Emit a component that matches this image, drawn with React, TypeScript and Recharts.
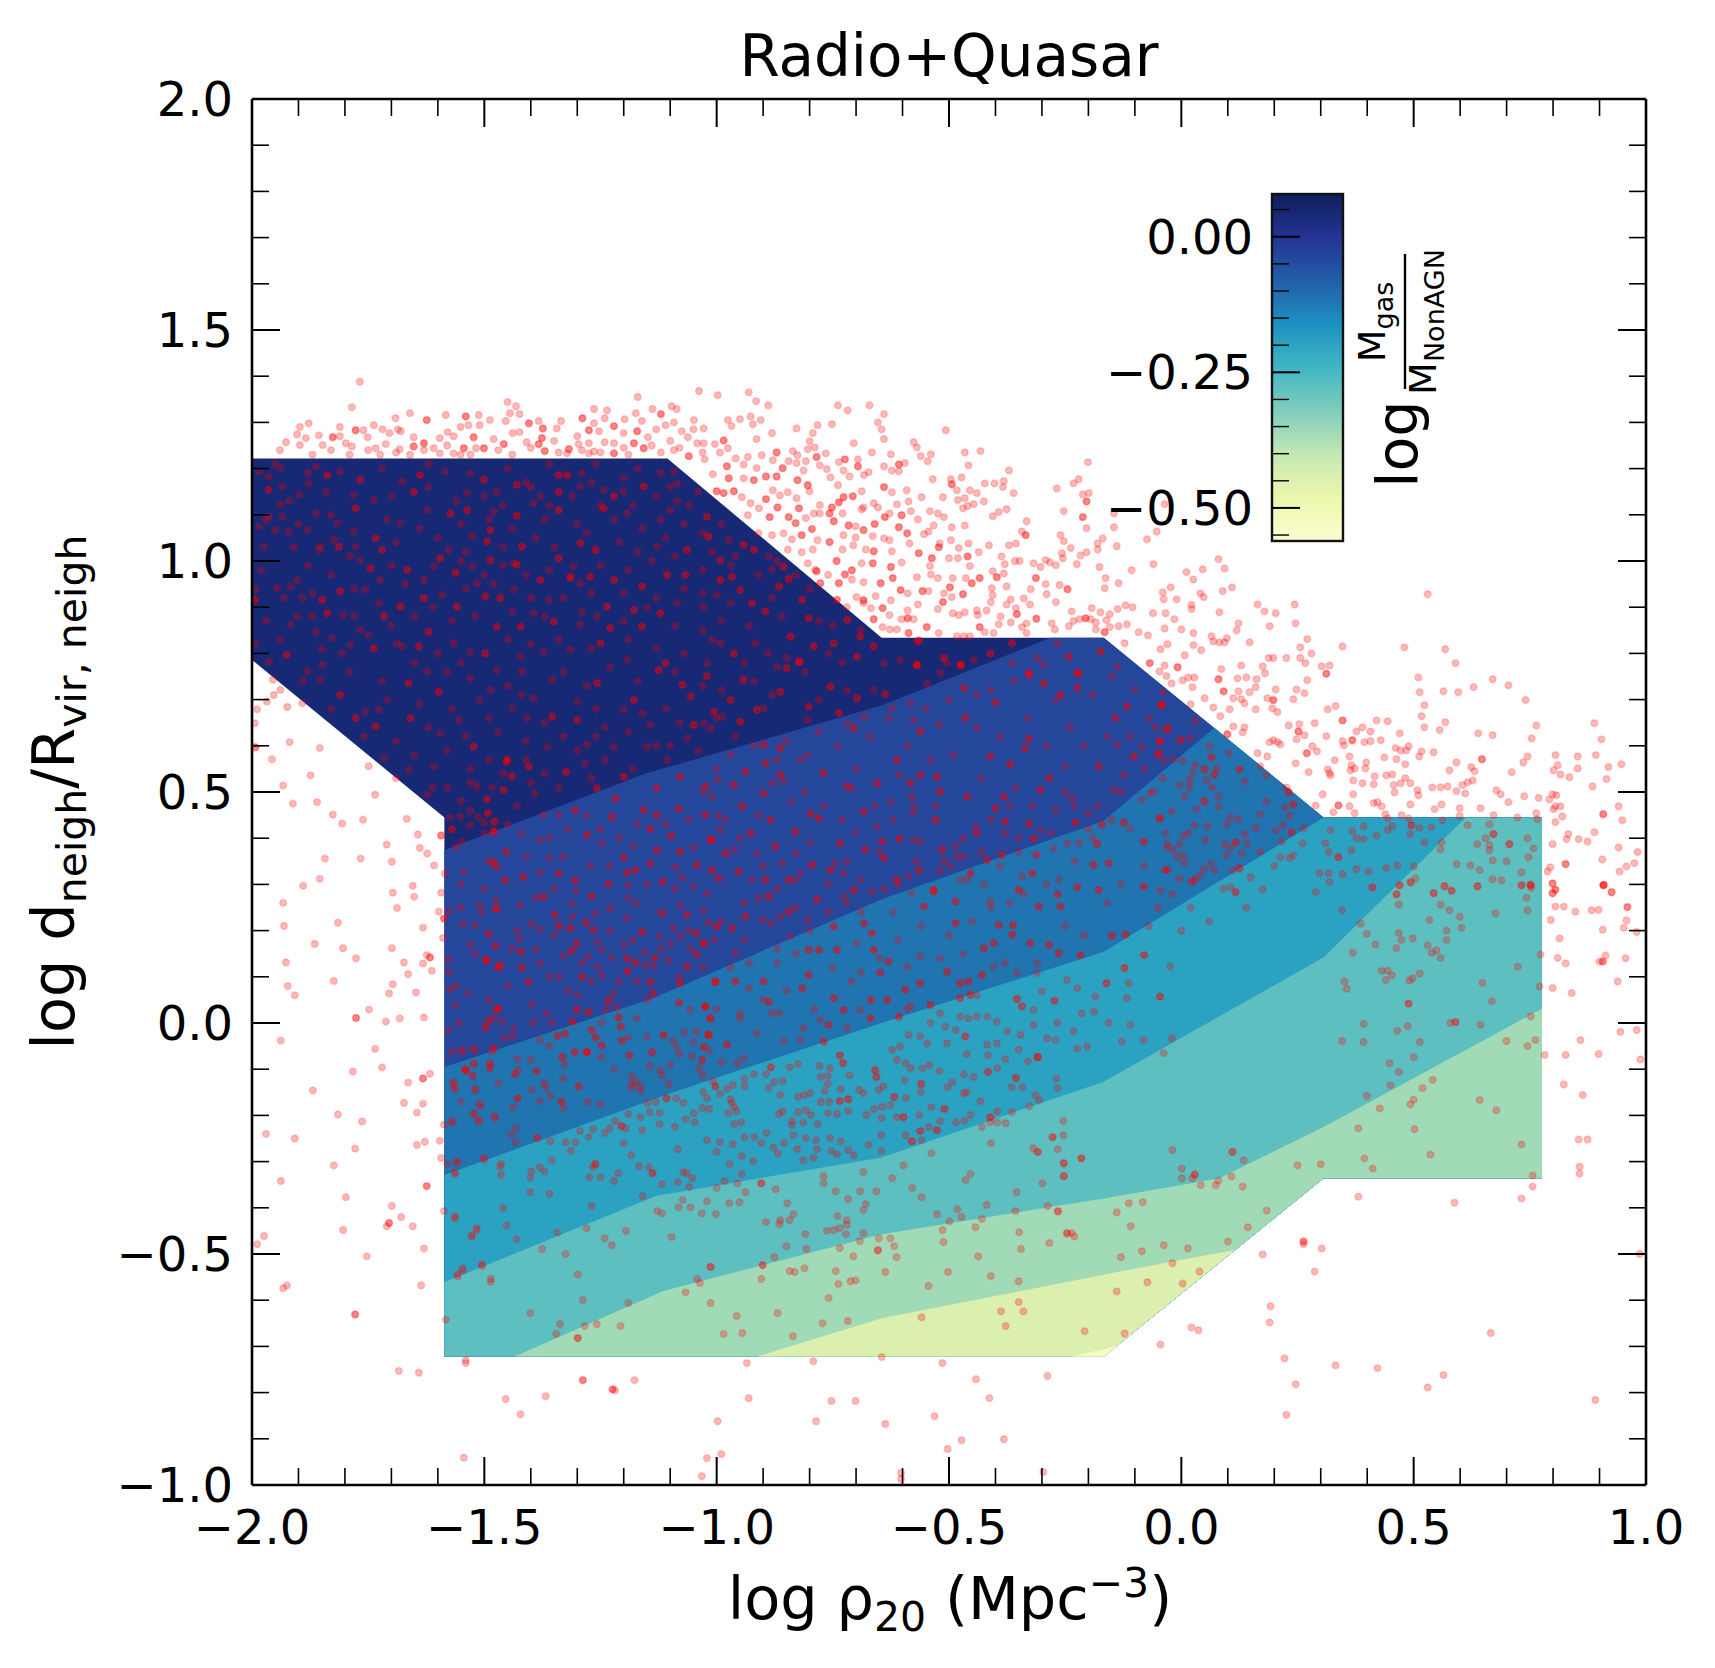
import { Area, ComposedChart, Scatter, XAxis, YAxis } from "recharts";

const W = 1715;
const H = 1668;
const PLOT_L = 252;
const PLOT_R = 1646;
const PLOT_T = 99;
const PLOT_B = 1485;
const MAJOR = 28;
const MINOR = 17;
const FONT = "'DejaVu Sans', sans-serif";
const TICK_SIZE = 48;
const LABEL_SIZE = 59;

const xTicks = [-2, -1.9, -1.8, -1.7, -1.6, -1.5, -1.4, -1.3, -1.2, -1.1, -1, -0.9, -0.8, -0.7, -0.6, -0.5, -0.4, -0.3, -0.2, -0.1, 0, 0.1, 0.2, 0.3, 0.4, 0.5, 0.6, 0.7, 0.8, 0.9, 1];
const yTicks = [-1, -0.9, -0.8, -0.7, -0.6, -0.5, -0.4, -0.3, -0.2, -0.1, 0, 0.1, 0.2, 0.3, 0.4, 0.5, 0.6, 0.7, 0.8, 0.9, 1, 1.1, 1.2, 1.3, 1.4, 1.5, 1.6, 1.7, 1.8, 1.9, 2];
const barTicks = [0.05, 0, -0.05, -0.1, -0.15, -0.2, -0.25, -0.3, -0.35, -0.4, -0.45, -0.5, -0.55];

// x, low, high of each contour level, painted back to front
const level0 = [[-2, 0.786, 1.222], [-1.586, 0.445, 1.222], [-1.586, -0.722, 1.222], [-1.106, -0.722, 1.222], [-0.645, -0.722, 0.834], [-0.167, -0.722, 0.834], [0.306, -0.336, 0.445], [0.776, -0.336, 0.445]];
const level1 = [[-1.586, -0.722, 0.374], [-1.153, -0.722, 0.54], [-0.645, -0.722, 0.687], [-0.282, -0.722, 0.834], [-0.167, -0.722, 0.834], [0.306, -0.336, 0.445], [0.776, -0.336, 0.445]];
const level2 = [[-1.586, -0.722, -0.095], [-1.136, -0.722, 0.054], [-0.645, -0.722, 0.268], [-0.167, -0.722, 0.438], [0.071, -0.528, 0.639], [0.306, -0.336, 0.445], [0.776, -0.336, 0.445]];
const level3 = [[-1.586, -0.722, -0.329], [-1.106, -0.722, -0.154], [-0.645, -0.722, 0], [-0.167, -0.722, 0.154], [0.306, -0.336, 0.445], [0.776, -0.336, 0.445]];
const level4 = [[-1.586, -0.722, -0.561], [-1.129, -0.722, -0.374], [-0.645, -0.722, -0.291], [-0.167, -0.722, -0.127], [0.306, -0.336, 0.142], [0.612, -0.336, 0.445], [0.776, -0.336, 0.445]];
const level5 = [[-1.435, -0.722, -0.722], [-1.115, -0.722, -0.58], [-0.645, -0.722, -0.457], [-0.167, -0.722, -0.38], [0.082, -0.519, -0.336], [0.306, -0.336, -0.225], [0.776, -0.336, 0.031]];
const level6 = [[-0.913, -0.722, -0.722], [-0.645, -0.722, -0.639], [-0.167, -0.722, -0.545], [-0.138, -0.698, -0.539], [0.116, -0.491, -0.491]];
const level7 = [[-0.239, -0.722, -0.722], [-0.167, -0.722, -0.706], [-0.136, -0.697, -0.697]];
const levelColors = ["#172875", "#24469b", "#2074b0", "#2ca2c2", "#5dbfbf", "#a0dab6", "#dbefae", "#f6fbc4"];
const levels = [level0, level1, level2, level3, level4, level5, level6, level7];

const barColumn = [[0, -0.561, 0.0788], [1, -0.561, 0.0788]];
const barStops = ["#fdfed2", "#ecf7ad", "#c4e8b4", "#7fcdbb", "#41b6c4", "#1d91c0", "#225ea8", "#253494", "#0c1e5c"];

// galaxies: x, y and, where dots pile up, how many sit on that spot
const ridgeDots = [[-1.768,1.388],[-1.785,1.333],[-1.878,1.298],[-1.897,1.29],[-1.903,1.274],[-1.927,1.257],[-1.884,1.266],[-1.897,1.251],[-1.848,1.251],[-1.856,1.272],[-1.826,1.268,2],[-1.811,1.29],[-1.777,1.283,2],[-1.76,1.283],[-1.811,1.27],[-1.798,1.255],[-1.785,1.248],[-1.751,1.268],[-1.734,1.244],[-1.738,1.294],[-1.719,1.285],[-1.704,1.277],[-1.712,1.253],[-1.691,1.309],[-1.686,1.285],[-1.68,1.281],[-1.66,1.32],[-1.682,1.242],[-1.652,1.248,3],[-1.63,1.255,2],[-1.652,1.268],[-1.624,1.305,2],[-1.583,1.316],[-1.596,1.266],[-1.579,1.279],[-1.566,1.27],[-1.609,1.244],[-1.596,1.233],[-1.566,1.233],[-1.54,1.313,2],[-1.512,1.316],[-1.488,1.305],[-1.551,1.29],[-1.534,1.294],[-1.51,1.294],[-1.523,1.268,3],[-1.544,1.244,2],[-1.501,1.244,3],[-1.518,1.244],[-1.48,1.264],[-1.458,1.253,3],[-1.45,1.344],[-1.432,1.335],[-1.424,1.318],[-1.445,1.32],[-1.454,1.303],[-1.404,1.298,2],[-1.439,1.277],[-1.424,1.279],[-1.409,1.257],[-1.383,1.303],[-1.374,1.287,2],[-1.344,1.287],[-1.335,1.303],[-1.376,1.266,3],[-1.383,1.253,3],[-1.37,1.238,2],[-1.318,1.242,3],[-1.297,1.253],[-1.289,1.309,2],[-1.264,1.329],[-1.236,1.326],[-1.264,1.298],[-1.241,1.309],[-1.221,1.292,2],[-1.275,1.283,2],[-1.253,1.281],[-1.198,1.307],[-1.275,1.255],[-1.241,1.257],[-1.221,1.255],[-1.174,1.32],[-1.17,1.355],[-1.161,1.303],[-1.171,1.281,2],[-1.148,1.268],[-1.2,1.277],[-1.178,1.255,2],[-1.157,1.244,3],[-1.138,1.329],[-1.12,1.318,2],[-1.097,1.335],[-1.086,1.329],[-1.11,1.294],[-1.092,1.3],[-1.12,1.235],[-1.06,1.227,3],[-1.075,1.281],[-1.062,1.268],[-1.049,1.305],[-1.092,1.24],[-1.042,1.255],[-1.038,1.368],[-1.551,1.23],[-1.322,1.233],[-1.221,1.233,2],[-1.724,1.23],[-1.264,1.237],[-1.275,1.233],[-1.66,1.23],[-1.63,1.24],[-1.58,1.25],[-1.53,1.23],[-1.47,1.24],[-1.44,1.23],[-1.4,1.245],[-1.35,1.26],[-1.34,1.235],[-1.3,1.27],[-1.29,1.24],[-1.25,1.235],[-1.2,1.245],[-1.19,1.23],[-1.14,1.25],[-1.13,1.285],[-1.1,1.26],[-1.08,1.245],[-1.03,1.235],[-1.05,1.285],[-1.69,1.235],[-1.75,1.24],[-1.79,1.23],[-1.83,1.24],[-1.87,1.23],[-1.94,1.24]];

const rimDots = [[-.998,1.359],[-.931,1.365],[-.915,1.346],[-.889,1.337],[-.739,1.337],[-.718,1.326],[-.671,1.337],[-.64,1.318],[-.653,1.3],[-.645,1.285],[-.64,1.264],[-.507,1.283],[-.95,1.307],[-.976,1.305],[-.968,1.292],[-.927,1.313],[-.922,1.296],[-.905,1.305],[-.881,1.277],[-.914,1.264],[-.828,1.287],[-.752,1.296],[-.783,1.294],[-.793,1.277],[-.8,1.259],[-.789,1.246],[-.705,1.255],[-.666,1.235],[-.625,1.231],[-.576,1.257],[-.569,1.246],[-.561,1.227],[-.539,1.231],[-.546,1.216],[-.466,1.235],[-.432,1.238],[-.458,1.207],[-.201,1.214],[-.371,1.196],[-.985,1.261,2],[-1.004,1.253],[-1.028,1.255],[-1.028,1.287],[-.993,1.235],[-.976,1.244],[-.959,1.222],[-.933,1.225],[-.903,1.229],[-.871,1.235,2],[-.836,1.238],[-.826,1.229],[-.804,1.242],[-.765,1.233],[-.785,1.225,2],[-.808,1.216],[-.724,1.22,2],[-.737,1.214],[-.696,1.22],[-.696,1.205,2],[-.64,1.205],[-.608,1.209,2],[-.595,1.212],[-.623,1.196],[-.608,1.194],[-.727,1.196],[-.673,1.192],[-.683,1.186],[-.714,1.183],[-.978,1.205,2],[-1.026,1.22],[-.942,1.209],[-.914,1.201],[-.879,1.218],[-.858,1.201,2],[-.845,1.216],[-.828,1.212],[-.813,1.196],[-.778,1.207],[-.763,1.199],[-1.008,1.188],[-.974,1.179,2],[-.942,1.179],[-.92,1.175,2],[-.894,1.183,2],[-.871,1.183,2],[-.826,1.175,2],[-.755,1.181],[-.804,1.164,2],[-.8,1.151],[-.739,1.164],[-.535,1.177],[-.496,1.177],[-.494,1.166,2],[-.473,1.181],[-.483,1.153],[-.423,1.168],[-.402,1.168],[-.382,1.173],[-.384,1.16],[-.268,1.157],[-.232,1.168],[-.221,1.177],[-.64,1.16,2],[-.591,1.153],[-.688,1.151],[-.623,1.149],[-.361,1.147],[-.212,1.144],[-.199,1.147],[-.204,1.129,2],[-.455,1.153],[-.44,1.147],[-.513,1.138],[-.559,1.138],[-.587,1.129],[-.466,1.136],[-.481,1.132],[-.425,1.129],[-.447,1.123],[-.46,1.119],[-.47,1.114],[-.612,1.123],[-.662,1.125],[-.653,1.116],[-.707,1.14,2],[-.727,1.138,2],[-.737,1.127,2],[-.752,1.116,2],[-.778,1.121],[-.828,1.136],[-.847,1.149],[-.864,1.142],[-.879,1.153],[-.894,1.134,2],[-.927,1.125],[-.909,1.114],[-.946,1.138],[-.963,1.151,2],[-.985,1.147,3],[-1,1.151,2],[-.869,1.116,2],[-.823,1.114,2],[-.845,1.095,3],[-.886,1.095,3],[-.933,1.099],[-.253,1.108],[-.145,1.103],[-.541,1.108],[-.524,1.103],[-.511,1.095],[-.582,1.108],[-.567,1.09],[-.628,1.103],[-.602,1.099,3],[-.638,1.095,2],[-.66,1.08,3],[-.684,1.116],[-.688,1.112],[-.729,1.103],[-.757,1.103,3],[-.791,1.103],[-.778,1.103],[-.808,1.093],[-.748,1.086,3],[-.406,1.097],[-.393,1.106],[-.376,1.112],[-.212,1.095,2],[-.204,1.071],[-.333,1.086],[-.145,1.073],[-.036,1.123],[-.053,1.064],[-.074,1.047],[-.466,1.077],[-.494,1.073],[-.533,1.077],[-.544,1.064],[-.554,1.058],[-.608,1.073,3],[-.59,1.06,2],[-.716,1.077,2],[-.701,1.075],[-.684,1.067,2],[-.664,1.054],[-.64,1.049],[-.701,1.051],[-.706,1.034],[-.727,1.056],[-.757,1.041,3],[-.783,1.045],[-.795,1.069,3],[-.817,1.056,2],[-.83,1.082,2],[-.856,1.06],[-.881,1.056],[-.838,1.047],[-.343,1.064],[-.335,1.056,2],[-.26,1.056],[-.253,1.043],[-.18,1.038],[-.169,1.049],[-.18,1.025],[-.139,1.032],[-.371,1.034],[-.356,1.038],[-.414,1.034],[-.458,1.038],[-.496,1.045],[-.52,1.038],[-.585,1.038],[-.628,1.045],[-.238,1.028],[-.257,1.017],[-.255,1.006],[-.217,1.012],[-.204,1.019],[-.225,.993],[-.176,.987],[-.107,.98],[-.163,.963],[-.135,.952],[-.165,.941],[-.318,.995],[-.303,.987],[-.292,1.002],[-.283,.997],[-.27,.991],[-.358,1],[-.348,1],[-.387,1.01],[-.38,.993],[-.436,1.019],[-.46,1.01,2],[-.479,1.028],[-.5,1.006],[-.481,1.006],[-.522,1.03,2],[-.537,1.006,2],[-.565,1.017,3],[-.623,1.021],[-.662,1.021,3],[-.679,1.025],[-.729,1.025],[-.793,1.025],[-.817,1.019],[-.847,1.025],[-.742,1,3],[-.709,.98,2],[-.664,.995,3],[-.625,.987,3],[-.602,.997],[-.785,.978,2],[-.804,.995],[-.688,.995],[-.724,.971,3],[-.737,.952,3],[-.709,.96],[-.621,.963,3],[-.647,.952,2],[-.684,.954],[-.569,.965],[-.541,.989],[-.539,.971],[-.524,.963],[-.455,.989],[-.492,.963],[-.464,.963],[-.434,.963,2],[-.406,.978],[-.397,.965,2],[-.382,.973],[-.313,.963,3],[-.324,.939],[-.292,.95],[-.376,.945],[-.408,.941],[-.406,.926],[-.262,.948],[-.245,.939,2],[-.29,.928],[-.27,.911],[-.451,.952,2],[-.498,.943,2],[-.47,.928,2],[-.494,.922],[-.511,.93],[-.557,.935,2],[-.544,.935],[-.604,.937,2],[-.589,.93],[-.658,.924],[-.625,.915],[-.699,.922],[-.684,.915,2],[-.684,.909],[-.567,.906],[-.513,.911,2],[-.524,.896],[-.492,.887],[-.466,.889],[-.479,.883],[-.44,.893],[-.419,.893],[-.438,.883],[-.367,.917],[-.376,.906],[-.356,.898],[-.339,.919],[-.326,.906],[-.354,.885,3],[-.312,.875,3],[-.41,.911],[-.389,.88],[-.393,.863],[-.367,.867],[-.343,.857],[-.333,.865],[-.333,.844],[-.279,.865],[-.272,.852],[-.236,.891],[-.242,.859],[-.232,.87],[-.219,.874],[-.206,.876,3],[-.195,.874],[-.184,.867],[-.193,.898],[-.174,.889],[-.154,.885],[-.161,.872],[-.184,.852],[-.165,.846,2],[-.154,.857],[-.137,.896],[-.12,.904],[-.105,.9],[-.135,.859],[-.117,.863],[-.092,.846],[-.072,.839],[-.122,.822],[-.068,.779,2],[-.662,.874,2],[-.643,.857],[-.627,.852],[-.612,.852],[-.587,.844,2],[-.589,.876,3],[-.602,.874],[-.576,.874],[-.548,.857,2],[-.522,.844],[-.643,.898,3],[-.628,.883],[-.668,.898],[-.589,.893],[-.565,.828,3],[-.483,.837],[-.468,.837],[-.455,.837],[-.434,.857,2],[-.423,.846],[-.404,.844]];

const rightDots = [[-.06,.993],[.08,1.004],[.093,.984],[.011,.976],[.046,.982],[.026,.96],[-.023,.943],[-.04,.932],[-.038,.917],[-.01,.917],[.041,.93],[.048,.922],[.089,.935],[.109,.943],[.022,.905],[.022,.896],[-.061,.887],[-.034,.887],[.082,.889],[-.015,.874],[.164,.906],[.179,.891],[.203,.887],[.244,.906],[.246,.865],[.123,.865],[.119,.85],[.19,.859],[-.036,.854],[0,.852],[.026,.844],[.065,.837],[.069,.826],[.082,.824],[.093,.824],[.098,.833],[.147,.824],[.271,.831],[.256,.813],[.347,.815],[.48,.813],[.568,.809],[.53,.928],[-.03,.82],[-.045,.809],[.026,.818],[.043,.807],[.28,.8],[.007,.796],[.188,.79],[.198,.79],[.226,.79],[.256,.79],[.267,.779],[.302,.772],[.319,.774],[.312,.756,2],[.59,.779],[.51,.748],[.513,.716],[.564,.718],[.596,.716],[.629,.727],[.67,.744],[.704,.731],[.741,.699],[.523,.688],[.517,.664],[.523,.64],[.568,.651],[.556,.634],[.639,.627],[.67,.623],[.764,.644],[.754,.616],[.889,.649],[.904,.614],[.805,.58],[.853,.577],[.892,.58],[.81,.558],[.853,.551],[.919,.554],[.947,.56],[.801,.547],[.816,.538],[.835,.532],[.915,.528],[.885,.512],[.745,.577],[.736,.564],[.711,.543],[.647,.571,2],[.592,.564],[.624,.554],[.631,.545],[.577,.547],[.543,.586],[.517,.588],[.512,.577],[.461,.595],[.472,.59],[.484,.59],[.489,.599],[.437,.575],[.463,.571],[.482,.56],[.398,.564],[.396,.551],[.362,.577],[.366,.558],[.373,.551],[.364,.547],[.33,.569],[.315,.549],[.319,.541],[.321,.536],[.274,.543],[.246,.562],[.185,.577],[.164,.584],[.27,.584,2],[.282,.599],[.292,.588],[.19,.608],[.198,.612],[.207,.608],[.213,.603],[.248,.614],[.252,.631,2],[.265,.623],[.312,.621],[.347,.61],[.35,.601],[.368,.612,2],[.394,.608],[.407,.61],[.429,.612],[.377,.631],[.39,.64],[.407,.631],[.47,.627],[.42,.655],[.444,.653],[.347,.655,2],[.287,.649],[.254,.647],[.231,.644],[.315,.679],[.332,.686],[.207,.673],[.196,.681],[.241,.701],[.265,.714],[.248,.722],[.271,.742],[.203,.722],[.198,.699,2],[.185,.703],[.16,.679],[.16,.727],[.147,.716],[.162,.744],[.14,.748],[.121,.746],[.18,.757],[.175,.772],[.129,.774],[.086,.766],[.08,.744,2],[.028,.748],[.015,.748],[.003,.742],[-.008,.77,2],[-.036,.774],[-.047,.761],[-.032,.751],[-.021,.735],[.024,.727],[.091,.718,2],[.123,.718],[.112,.703],[.129,.701],[.136,.692],[.05,.703],[.069,.683],[.104,.679],[.084,.664],[.112,.642],[.136,.64],[.132,.629],[.099,.625,2],[.37,.525],[.39,.519],[.414,.517],[.416,.534],[.441,.536],[.454,.538],[.457,.515],[.472,.519],[.482,.53],[.493,.519],[.459,.499],[.508,.504],[.51,.493],[.54,.51],[.558,.51],[.573,.512],[.592,.502],[.605,.515],[.616,.521],[.627,.525],[.611,.497],[.678,.504],[.687,.495],[.738,.491],[.769,.487],[.704,.478],[.799,.495],[.807,.493],[.792,.484],[.801,.463],[.805,.469],[.816,.469],[.82,.447],[.805,.435],[.941,.469],[.908,.452,2],[.949,.439],[.889,.413],[.833,.409],[.829,.398],[.855,.398],[.874,.393],[.799,.387],[.941,.38],[.982,.37],[.906,.354],[.975,.346],[.958,.339],[.943,.328],[.827,.344,2],[.794,.337],[.788,.328],[.908,.298,2],[.799,.302],[.805,.289],[.799,.281],[.926,.283],[.37,.495],[.304,.495],[.338,.471,2],[.362,.469],[.327,.456],[.373,.454],[.289,.471],[.414,.476],[.422,.478],[.431,.469],[.439,.452],[.444,.443],[.493,.473],[.474,.45],[.489,.443],[.545,.463],[.56,.473],[.599,.465],[.599,.448],[.644,.465],[.672,.45],[.723,.445],[.764,.454],[.766,.441],[.495,.428,2],[.512,.422],[.538,.424],[.562,.439],[.616,.428],[.663,.43],[.672,.409,2],[.655,.4],[.663,.385],[.663,.374],[.637,.387],[.706,.387,2],[.745,.4],[.758,.378],[.523,.391],[.56,.391],[.558,.376],[.392,.426],[.321,.417],[.368,.415],[.377,.4],[.392,.398],[.42,.406],[.444,.417],[.454,.426],[.493,.409],[.261,.389],[.31,.389],[.317,.37],[.366,.374],[.338,.359,2],[.241,.363],[.233,.357],[.213,.359],[.592,.344],[.622,.341],[.642,.331],[.67,.352],[.7,.35],[.747,.359],[.465,.341],[.441,.335],[.5,.339],[.403,.328],[.377,.333],[.347,.322],[.317,.324],[.297,.324],[.319,.305],[.732,.326],[.67,.311],[.689,.309],[.732,.298],[.751,.3],[.753,.292],[.637,.296],[.566,.296],[.581,.287],[.543,.281],[.504,.313],[.493,.305],[.469,.298],[.463,.279],[.411,.294],[.289,.283],[.175,.289],[.117,.283,2],[.106,.294],[.149,.315],[-.043,.688,2],[.02,.69],[.03,.653],[-.04,.716],[-.056,.64],[-.034,.634],[-.028,.636],[-.047,.61,2],[-.002,.612,2],[.018,.616],[-.049,.584,2],[.061,.599],[.102,.584],[.065,.575,2],[-.038,.569],[-.017,.571],[.003,.567],[.03,.558],[.05,.549,2],[.076,.551],[.125,.549,2],[.024,.541],[.071,.538,2],[.054,.525],[.018,.525],[.018,.51],[-.04,.53],[.136,.523],[.183,.536],[.17,.556],[-.004,.515],[.067,.51],[-.06,.502],[.007,.491],[.08,.491],[.05,.48,2],[.183,.48],[.226,.51],[.231,.5,2],[.241,.473,2],[.224,.467],[-.021,.458],[.033,.463],[.08,.469],[.17,.452],[.233,.448],[.106,.445],[.123,.441],[-.047,.443,2],[.028,.428],[.056,.426],[.097,.43],[.16,.422],[.218,.428],[.263,.422],[.237,.413,2],[.203,.417],[.015,.411],[.005,.406],[-.034,.411],[.136,.409],[.052,.396],[.117,.391,2],[.142,.389],[.093,.387],[.216,.393],[-.03,.387],[-.004,.387],[-.017,.374],[.106,.38],[.097,.363],[.13,.367],[-.008,.359],[.005,.363],[.007,.346],[.063,.344],[-.036,.331],[.048,.333],[.071,.331],[.125,.335,2],[.028,.309,2],[-.004,.313],[-.045,.287],[.02,.305],[-.019,.279]];

const farRightDots = [[.412,.293],[.47,.298],[.494,.304],[.567,.296],[.582,.286],[.638,.296],[.732,.298],[.752,.298,2],[.799,.302],[.805,.288],[.799,.281],[.909,.299,2],[.926,.283],[.463,.278],[.543,.281],[.743,.271],[.468,.256],[.558,.256],[.577,.244],[.745,.244],[.676,.237],[.599,.23],[.805,.252],[.823,.252],[.848,.241],[.883,.244],[.898,.245],[.96,.251,3],[.795,.223],[.958,.222],[.534,.223],[.386,.215],[.346,.244],[.399,.193],[.468,.195],[.571,.2],[.603,.206],[.907,.202],[.952,.206],[.98,.197],[.474,.18],[.498,.183],[.571,.18],[.814,.183],[.418,.17],[.53,.168],[.539,.152],[.549,.157],[.369,.152],[.463,.162],[.558,.141],[.773,.148],[.81,.141],[.827,.129],[.913,.146],[.9,.133],[.907,.133,2],[.956,.14],[.724,.122],[.431,.113],[.444,.113],[.453,.103],[.44,.093],[.513,.107],[.498,.097],[.491,.092],[.351,.09],[.356,.074],[.648,.087],[.771,.079],[.799,.076],[.84,.065],[.939,.09],[.668,.047],[.489,.042,3],[.752,.014],[.392,-.002],[.487,-.007],[.465,-.017],[.579,0],[.59,.002,2],[.644,-.004],[.945,-.019],[.98,-.015],[.859,-.037],[.346,-.039],[.392,-.041],[.513,-.041],[.7,-.039],[.762,-.037],[.745,-.05],[.782,-.069],[.827,-.069],[.898,-.067],[.988,-.079],[.5,-.074],[.448,-.087],[.468,-.106],[.541,-.123],[.519,-.141],[.45,-.135],[.399,-.158],[.823,-.133],[.864,-.156],[.5,-.166],[.493,-.176],[.427,-.185],[.642,-.167],[.678,-.189],[.381,-.228],[.502,-.23],[.855,-.252],[.874,-.252],[.732,-.263],[.536,-.285],[.394,-.293],[.412,-.315],[.857,-.311],[.857,-.326],[.756,-.33],[.756,-.354],[.381,-.376],[.588,-.389],[.732,-.38],[.986,-.5],[.666,-.671],[.422,-.747],[.564,-.762],[.53,-.789],[.891,-.816],[-.215,-.293,3],[-.019,-.275],[.001,-.315],[.001,-.336],[.029,-.328,2],[.024,-.336],[.11,-.279,2],[.134,-.297],[-.253,-.304],[-.253,-.332],[.25,-.308],[.3,-.306],[.042,-.351],[.08,-.341],[.074,-.351],[.108,-.332],[.132,-.354],[-.113,-.39],[-.083,-.388],[-.139,-.41],[-.265,-.408],[.184,-.406],[-.109,-.44],[.143,-.442],[-.246,-.455],[-.236,-.455],[-.23,-.462],[.1,-.473],[-.038,-.481],[.014,-.488],[-.085,-.494],[-.13,-.507],[-.019,-.52],[.039,-.538],[-.073,-.561],[.003,-.564],[-.139,-.581],[-.208,-.667],[-.122,-.672],[.263,-.473,2],[.263,-.479],[.302,-.488],[.175,-.501],[.287,-.538],[.192,-.613],[.19,-.648],[.022,-.659],[.037,-.665],[-.045,-.696],[.222,-.726],[.332,-.741],[.246,-.782],[.226,-.848]];

const leftDots = [[-1.989,.679],[-1.994,.649],[-1.993,.597,2],[-1.957,.571],[-1.919,.608],[-1.854,.595],[-1.924,.684],[-1.939,.721],[-1.953,.71],[-1.955,.743],[-1.968,.696],[-1.892,.692],[-1.874,.536],[-1.749,.556],[-1.933,.514],[-1.912,.475],[-1.86,.478],[-1.735,.494],[-1.826,.451],[-1.806,.432],[-1.761,.44],[-1.667,.442],[-1.643,.408],[-1.593,.406,2],[-1.71,.386],[-1.639,.379],[-1.623,.367],[-1.843,.356],[-1.766,.356],[-1.699,.349],[-1.608,.341],[-1.585,.323],[-1.854,.312],[-1.89,.297],[-1.697,.282],[-1.654,.297],[-1.651,.273],[-1.593,.282],[-1.933,.26],[-1.688,.249],[-1.598,.241],[-1.587,.226,2],[-1.931,.21],[-1.815,.217],[-1.632,.206],[-1.589,.184],[-1.865,.171],[-1.804,.162],[-1.699,.162],[-1.927,.131],[-1.776,.14],[-1.673,.131],[-1.632,.129],[-1.624,.147],[-1.617,.142,2],[-1.613,.113],[-1.664,.106],[-1.824,.091],[-1.923,.08],[-1.697,.084],[-1.908,.06],[-1.705,.064],[-1.647,.066],[-1.748,.029],[-1.776,.011,2],[-1.712,.003],[-1.682,.01],[-1.63,.012],[-1.938,-.038],[-1.735,-.056],[-1.72,-.096],[-1.783,-.105],[-1.617,-.11],[-1.664,-.129],[-1.632,-.12,2],[-1.869,-.146],[-1.673,-.173],[-1.632,-.175],[-1.645,-.194],[-1.815,-.198],[-1.763,-.213],[-1.587,-.22],[-1.97,-.24],[-1.908,-.25],[-1.628,-.257],[-1.645,-.264],[-1.596,-.255],[-1.778,-.272],[-1.593,-.292],[-1.824,-.308],[-1.938,-.342],[-1.624,-.353,2],[-1.798,-.377],[-1.699,-.396],[-1.587,-.407],[-1.679,-.42],[-1.705,-.433,2],[-1.71,-.44],[-1.654,-.44],[-1.804,-.448],[-1.974,-.461],[-1.989,-.479],[-1.63,-.488],[-1.753,-.505],[-1.925,-.568],[-1.933,-.574],[-1.636,-.568],[-1.778,-.631,3],[-1.583,-.642],[-1.54,-.736],[-1.684,-.753],[-1.641,-.757],[-1.544,-.941],[-1.574,.445],[-1.57,.419],[-1.531,.428],[-1.514,.445],[-1.501,.434],[-1.492,.454],[-1.477,.436],[-1.494,.484],[-1.516,.512],[-1.484,.51],[-1.611,.51],[-1.499,.411],[-1.479,.415],[-1.548,.393],[-1.561,.381],[-1.492,.352],[-1.479,.348],[-1.471,.337],[-1.544,.327],[-1.475,.265],[-1.552,.25],[-1.51,.255],[-1.477,.247],[-1.505,.239],[-1.576,.241],[-1.546,.214],[-1.52,.212],[-1.49,.192],[-1.475,.167],[-1.578,.138],[-1.496,.136,2],[-1.471,.12,2],[-1.576,.11],[-1.574,.073],[-1.535,.064],[-1.563,.039],[-1.471,.03,2],[-1.479,.012],[-1.492,.003],[-1.497,-.011],[-1.555,0],[-1.576,-.016],[-1.525,-.054],[-1.57,-.062],[-1.548,-.06,3],[-1.484,-.062],[-1.522,-.089],[-1.488,-.089],[-1.488,-.098],[-1.54,-.103,3],[-1.525,-.116],[-1.568,-.13],[-1.563,-.143],[-1.52,-.146],[-1.509,-.179],[-1.522,-.198],[-1.512,-.213],[-1.477,-.205],[-1.57,-.216],[-1.501,-.296],[-1.58,-.305],[-1.559,-.303],[-1.563,-.327],[-1.563,-.423],[-1.516,-.448],[-1.527,-.463],[-1.546,-.536],[-1.557,-.549],[-1.505,-.526],[-1.486,-.56],[-1.466,-.311]];

const lowerDots = [[-1.54,-.73],[-.935,-.736],[-.792,-.732],[-.645,-.723],[-.514,-.736],[-1.288,-.773,3],[-1.224,-.793,2],[-1.219,-.795],[-1.177,-.773],[-.442,-.771],[-.288,-.764],[-1.454,-.814],[-1.368,-.808],[-.931,-.812],[-.753,-.818],[-.701,-.818],[-.413,-.812],[-1.422,-.847],[-.998,-.862],[-.786,-.862],[-.637,-.868],[-.531,-.851],[-.473,-.903],[-.382,-.901],[-.503,-.922],[-1.021,-.942],[-.99,-.933],[-1.032,-.981],[-.603,-.974],[-.603,-.987],[-.297,-.972],[-1.401,-.628],[-1.337,-.652],[-1.345,-.673],[-1.284,-.656],[-1.258,-.652],[-1.299,-.682,3],[-1.207,-.656],[-1.19,-.606],[-1.288,-.6],[-1.299,-.544],[-1.486,-.554],[-1.547,-.531],[-1.558,-.544],[-1.505,-.522],[-1.376,-.489],[-1.325,-.5],[-1.43,-.468],[-1.527,-.459],[-1.517,-.444],[-1.452,-.438],[-1.343,-.453],[-1.28,-.444],[-1.241,-.466],[-1.226,-.481],[-1.195,-.45],[-1.097,-.463],[-1.564,-.418],[-1.46,-.401],[-1.401,-.366],[-1.36,-.37],[-1.269,-.396],[-1.159,-.375],[-1.464,-.329],[-1.464,-.305],[-1.399,-.321],[-1.401,-.334],[-1.381,-.312],[-1.371,-.321],[-1.355,-.297],[-1.274,-.334],[-1.25,-.334],[-1.266,-.312],[-1.261,-.305,2],[-1.212,-.325],[-1.221,-.342],[-1.167,-.31],[-1.146,-.312],[-1.138,-.325,3],[-1.118,-.349],[-1.072,-.323],[-1.064,-.325],[-1.052,-.336],[-1.084,-.344],[-1.059,-.355],[-1.184,-.286],[-1.314,-.277],[-1.325,-.258],[-1.304,-.258],[-1.275,-.247],[-1.2,-.26],[-1.16,-.232],[-1.241,-.238],[-1.23,-.228],[-1.294,-.234],[-1.266,-.23],[-1.218,-.212],[-1.205,-.223,2],[-1.195,-.228],[-1.358,-.256],[-1.386,-.249,2],[-1.442,-.241],[-1.432,-.228],[-1.432,-.258],[-1.501,-.292],[-1.559,-.299],[-1.564,-.323],[-1.478,-.202],[-1.524,-.195],[-1.512,-.21],[-1.568,-.212],[-1.439,-.182],[-1.51,-.176],[-1.428,-.163,2],[-1.381,-.169],[-1.334,-.17,3],[-1.33,-.184],[-1.358,-.158],[-1.278,-.171],[-1.25,-.176],[-1.398,-.145],[-1.52,-.143],[-1.371,-.13],[-1.368,-.139],[-1.297,-.137,2],[-1.565,-.128],[-1.564,-.141],[-1.434,-.11,2],[-1.427,-.101],[-1.388,-.104,3],[-1.525,-.113],[-1.541,-.1,3],[-1.522,-.087],[-1.488,-.087],[-1.488,-.096],[-1.429,-.078],[-1.332,-.074],[-1.327,-.089],[-1.305,-.063],[-1.28,-.063,2],[-1.248,-.074],[-1.187,-.07],[-1.138,-.063],[-1.08,-.067],[-1.053,-.072],[-1.016,-.06],[-1.031,-.08,3],[-.99,-.085],[-.955,-.087],[-.942,-.076],[-1.038,-.098],[-1.03,-.113],[-1.008,-.126],[-1.121,-.102],[-1.118,-.113],[-1.144,-.093],[-1.182,-.115],[-1.182,-.132],[-1.172,-.128],[-1.184,-.139],[-1.164,-.137],[-1.164,-.147],[-1.103,-.132],[-.883,-.096,3],[-.92,-.111],[-.894,-.111],[-.94,-.121],[-.94,-.137],[-1.003,-.137,3],[-.965,-.134],[-.978,-.142],[-.993,-.154],[-1.029,-.15],[-1.021,-.163],[-1.108,-.163,2],[-1.087,-.163],[-1.072,-.173],[-1.131,-.171],[-1.149,-.173],[-1.144,-.193],[-1.123,-.195],[-1.19,-.197],[-1.164,-.204],[-1.123,-.219],[-1.09,-.225],[-1.067,-.208],[-1.047,-.215],[-1.049,-.195],[-1.031,-.184],[-1.016,-.186],[-.97,-.165],[-.968,-.173],[-.962,-.182],[-.957,-.191],[-.975,-.195],[-.962,-.219],[-.947,-.215],[-1.021,-.254],[-.993,-.258],[-.94,-.247],[-.919,-.247],[-.965,-.262],[-.893,-.238],[-.904,-.26],[-.878,-.269],[-.868,-.282],[-.855,-.26],[-.835,-.243],[-.808,-.249],[-.786,-.254],[-.827,-.273],[-.784,-.273],[-.756,-.249],[-.733,-.256],[-.753,-.277],[-.741,-.284],[-.717,-.275],[-.705,-.286],[-.673,-.264],[-.646,-.243],[-.645,-.277],[-.593,-.243],[-.58,-.256,2],[-.559,-.254],[-.562,-.234,2],[-.544,-.225],[-.526,-.232,2],[-.538,-.282],[-.41,-.26],[-.429,-.225],[-.411,-.215],[-.396,-.215],[-.378,-.217],[-.277,-.247,3],[-.254,-.212],[-.254,-.243],[-.266,-.273],[-.319,-.271],[-.309,-.279,2],[-.253,-.303],[-.253,-.331],[-1,-.279],[-.946,-.288],[-.921,-.299],[-.972,-.305],[-.814,-.297],[-.792,-.292],[-1.084,-.273],[-.946,-.327],[-.983,-.342],[-.955,-.347],[-.904,-.347,3],[-.873,-.36],[-1,-.357],[-.938,-.366],[-1.073,-.383],[-1.021,-.386],[-1.082,-.399],[-1.056,-.399],[-1.128,-.407],[-1.118,-.412],[-1.032,-.412],[-1.002,-.414],[-.973,-.39],[-.951,-.388],[-.848,-.39],[-.835,-.414],[-.843,-.427],[-.894,-.431],[-.863,-.427],[-.865,-.435],[-.809,-.457],[-.85,-.483],[-.807,-.489],[-.876,-.507],[-.901,-.524,3],[-1.013,-.528,3],[-1.042,-.554],[-1.036,-.563],[-1.067,-.583],[-1.013,-.606],[-.957,-.634],[-.985,-.673],[-.945,-.671],[-.869,-.628],[-.904,-.554],[-.843,-.537],[-.832,-.539],[-.811,-.531],[-.836,-.678],[-.772,-.65],[-.759,-.595],[-.738,-.565],[-.744,-.537],[-.712,-.559],[-.701,-.557],[-.718,-.645],[-.637,-.539],[-.613,-.507],[-.618,-.483],[-.653,-.492,3],[-.706,-.505],[-.735,-.487],[-.692,-.472],[-.651,-.466],[-.626,-.466],[-.684,-.455],[-.763,-.45],[-.748,-.448],[-.735,-.444],[-.722,-.457],[-.72,-.427],[-.72,-.437],[-.74,-.418],[-.684,-.405],[-.679,-.392],[-.717,-.381],[-.744,-.364],[-.691,-.364],[-.656,-.364],[-.622,-.336],[-.77,-.331],[-.77,-.347],[-.684,-.323],[-.598,-.308],[-.579,-.357],[-.559,-.377],[-.464,-.34],[-.454,-.327],[-.355,-.366],[-.299,-.347],[-.526,-.414],[-.499,-.429],[-.482,-.403],[-.473,-.42],[-.419,-.394],[-.429,-.424],[-.357,-.407],[-.288,-.396],[-.266,-.407],[-.514,-.448],[-.443,-.442],[-.349,-.453],[-.246,-.455],[-.512,-.474],[-.437,-.505],[-.345,-.489],[-.284,-.476],[-.502,-.539],[-.544,-.569],[-.41,-.548],[-.35,-.559],[-.35,-.604],[-.388,-.624],[-.34,-.624],[-.378,-.656],[-.559,-.637],[-.863,-.156],[-.825,-.16],[-.812,-.156],[-.799,-.152],[-.888,-.141],[-.876,-.128],[-.858,-.126],[-.776,-.171],[-.758,-.171],[-.735,-.169,3],[-.717,-.165,2],[-.768,-.147],[-.761,-.132],[-.733,-.143],[-.693,-.145],[-.684,-.152],[-.651,-.145],[-.641,-.137],[-.618,-.16,3],[-.593,-.163],[-.656,-.117,3],[-.659,-.102,3],[-.714,-.113],[-.776,-.117],[-.761,-.115],[-.779,-.093],[-.756,-.098],[-.735,-.07,2],[-.728,-.087,3],[-.843,-.096],[-.825,-.089],[-.612,-.08],[-.593,-.087],[-.582,-.098],[-.557,-.098],[-.542,-.091],[-.521,-.104],[-.595,-.124],[-.56,-.132,3],[-.561,-.15],[-.503,-.139],[-.493,-.128],[-.468,-.152],[-.462,-.15],[-.468,-.111],[-.447,-.117],[-.416,-.106,2],[-.396,-.098],[-.379,-.078],[-.462,-.067],[-.416,-.07],[-.33,-.083],[-.309,-.074,3],[-.356,-.119,3],[-.365,-.139],[-.342,-.139],[-.269,-.121],[-.266,-.141],[-.314,-.156],[-.306,-.167],[-.432,-.169],[-.327,-.18],[-.396,-.191],[-.365,-.193],[-.411,-.204,3],[-.454,-.199],[-.485,-.215],[-.467,-.212],[-.519,-.212],[-.51,-.186,2],[-.538,-.182],[-.564,-.199],[-.613,-.204],[-.598,-.204,2],[-.645,-.206],[-.678,-.199],[-.661,-.186],[-.644,-.182],[-.626,-.178],[-.717,-.191],[-.761,-.195],[-.741,-.197],[-.825,-.193],[-.808,-.189],[-.866,-.197],[-.858,-.191],[-.838,-.212],[-.838,-.221],[-.814,-.215],[-.783,-.219],[-.797,-.199]];

const midDots = [[-1.021,.751,3],[-.97,.699,3],[-1.006,.674,2],[-.988,.663],[-.949,.652,2],[-.942,.743,2],[-.863,.717,2],[-.849,.768,3],[-.822,.782,3],[-.802,.685,2],[-.755,.728,3],[-.698,.703,2],[-.637,.712,3],[-.569,.775,2],[-.474,.775,3],[-.662,.721],[-.737,.671,2],[-.913,.678,2],[-.899,.681],[-.805,.656],[-1.028,.649],[-1.013,.638],[-.504,.779],[-.518,.757],[-.547,.735],[-.583,.692],[-.622,.681],[-.683,.663],[-.719,.649],[-.899,.602,2],[-.863,.595,2],[-.895,.562,3],[-.87,.57],[-.938,.544,2],[-.963,.515,3],[-.999,.526],[-.771,.541,3],[-.863,.537,2],[-.856,.523],[-.82,.57],[-.805,.58],[-.705,.638,2],[-.655,.519,3],[-.719,.512,2],[-.709,.508],[-.612,.57,3],[-.562,.537,2],[-.583,.519,2],[-.526,.533,2],[-.607,.537],[-.562,.631,3],[-.522,.645],[-.576,.656],[-.465,.66,3],[-.4,.694,2],[-.468,.725,3],[-.44,.71],[-.328,.754,3],[-.296,.735,3],[-.224,.725,3],[-.26,.71,2],[-.224,.757,2],[-.142,.66,3],[-.117,.685,2],[-.042,.689,2],[-.102,.577,3],[-.138,.602],[-.178,.555,2],[-.284,.53,3],[-.368,.56,2],[-.411,.577,3],[-.328,.615,2],[-.336,.595,2],[-.4,.465,3],[-.529,.44,3],[-.607,.399,2],[-.644,.393,3],[-.486,.382],[-.515,.375,2],[-.798,.453,2],[-.78,.443,2],[-.884,.44,2],[-.683,.458,2],[-.831,.414,3],[-.953,.328,4],[-.895,.31,3],[-.845,.31,3],[-.888,.274,3],[-.924,.31],[-.996,.313,2],[-.784,.267,3],[-.612,.31,3],[-.565,.331,3],[-.64,.357,3],[-.755,.331,2],[-.795,.342,2],[-.745,.346],[-.44,.411,3],[-.443,.425],[-.318,.399,3],[-.328,.432,2],[-.379,.436,2],[-.303,.418],[-.228,.434,2],[-.171,.429,3],[-.199,.454],[-.235,.487],[-.303,.505,3],[-.249,.555],[-.357,.508],[-.382,.49,2],[-.461,.49,3],[-.519,.501,2],[-.626,.479],[-.576,.454],[-.067,.497],[-.085,.483],[-.045,.609],[-.085,.598],[-.124,.537],[-.145,.505],[-.418,.353,3],[-.386,.364,3],[-.454,.324,3],[-.39,.339],[-.562,.393],[-.576,.396],[-.576,.469],[-.884,.216],[-1,.209,3],[-.967,.205,3],[-.938,.23,2],[-.845,.241,2],[-.863,.23],[-.902,.223],[-1.028,.173],[-1.006,.18],[-.96,.151],[-.841,.187],[-.805,.223],[-1.024,.451,2],[-.996,.448],[-1.024,.512,2],[-1.01,.49],[-.945,.469,2],[-.899,.497,2],[-.992,.418],[-1.01,.396,3],[-.981,.367,3],[-.963,.375],[-.927,.411,3],[-.874,.382,2],[-.913,.367],[-.859,.346],[-.82,.324],[-.727,.324],[-.705,.288,2],[-.727,.274],[-.666,.285],[-.587,.317],[-.533,.288,2],[-.497,.339],[-.483,.36],[-.655,.425],[-.701,.411],[-.734,.389,2],[-.68,.375,3],[-.83,.367],[-.741,.158,4],[-.666,.194,4],[-.683,.216,3],[-.748,.209,3],[-.802,.158,3],[-.78,.158,2],[-.698,.173],[-.662,.158,3],[-.486,.216,4],[-.486,.263,3],[-.533,.285,2],[-.554,.252,2],[-.393,.212,2],[-.362,.212,3],[-.364,.191,3],[-.425,.162,3],[-.404,.173,2],[-.325,.173,3],[-.285,.169,3],[-.217,.147,3],[-.264,.151,2],[-.149,.189,3],[-.12,.191,2],[-.081,.295,4],[-.178,.288,3],[-.224,.294,3],[-.266,.279,3],[-.26,.252,2],[-.35,.288,3],[-.321,.324,3],[-.312,.364,3],[-.307,.252,3],[-.181,.388,3],[-.081,.393,3],[-.124,.434,2],[-.189,.342,3],[-.156,.346,2],[-.264,.31],[-.031,.331,2],[-.045,.443],[-.246,.389],[-.275,.378],[-.343,.317],[-.425,.299],[-.411,.263],[-.475,.31],[-.504,.111,4],[-.562,.086,3],[-.648,.109,3],[-.63,.133,2],[-.802,.104,3],[-.816,.075,3],[-.96,.09,3],[-1.003,.09,3],[-.931,.075],[-.899,.09,2],[-.888,.046,3],[-.748,.054,3],[-.668,.05,4],[-.633,.05,3],[-.594,.072,3],[-.54,.039,4],[-.476,.086,3],[-.458,.09,3],[-.476,.054,3],[-.454,.061,2],[-.429,.104,3],[-.354,.108],[-.311,.108],[-.562,.144],[-.59,.122],[-.404,.122],[-.727,.028,3],[-.759,-.004,3],[-.777,.007],[-.813,-.011],[-.978,-.047,4],[-1.017,-.026,3],[-.949,.021],[-1.024,.036,2],[-1.013,.01],[-.866,.021],[-.881,.021],[-.913,-.022],[-.856,-.04],[-.82,-.037],[-.77,-.04,3],[-.669,.01,2],[-.608,.014,2],[-.583,.036],[-.719,-.011],[-.691,.028],[-.519,.021],[-.273,.048,3],[-.354,.052,2],[-.343,.036,2],[-.318,.028],[-.161,.086,2],[-.122,.119,2],[-.08,.147,3],[-.046,.057,2],[-.185,.057],[-.224,.075],[-.117,.054],[-.024,.122],[-.113,.086],[-.246,.093],[-.3,.068],[-.214,.021],[-.188,.025],[-.156,0],[-.11,-.004],[-.318,-.004],[-.267,0],[-.397,.003],[-.418,.014],[-.44,.014],[-.458,.01],[-.476,.014],[-.465,-.029,3],[-.508,-.008],[-.54,0],[-.562,-.029],[-.587,-.026],[-.622,-.058],[-.605,-.051],[-.547,-.044],[-.504,-.044],[-.486,-.015],[-.418,-.047],[-.397,-.044],[-.375,-.018],[-.346,-.026],[-.289,-.033],[-.232,-.018],[-.203,-.051],[-.271,-.037],[-.224,-.055],[-.128,-.04],[-.081,-.037],[-.02,-.033],[-.31,-.073],[-.35,-.058],[-.038,-.065]];

const innerLeftDots = [[-1.452,.565,2],[-1.405,.555,2],[-1.324,.544,3],[-1.441,.534,2],[-1.459,.504,3],[-1.258,.508,3],[-1.2,.533,3],[-1.079,.533,4],[-1.495,.484],[-1.391,.497],[-1.283,.562],[-1.218,.486,2],[-1.129,.508,2],[-1.305,.461,3],[-1.493,.454],[-1.48,.436],[-1.48,.414,2],[-1.373,.45],[-1.157,.461,2],[-1.082,.464,2],[-1.129,.45,3],[-1.226,.446,3],[-1.143,.42,3],[-1.098,.405,3],[-1.014,.397,3],[-1.279,.407,2],[-1.38,.396],[-1.453,.37,3],[-1.247,.389],[-1.2,.358,4],[-1.179,.383],[-1.129,.374,2],[-1.079,.371,2],[-1.361,.358],[-1.143,.345,3],[-1.193,.326,4],[-1.175,.331,3],[-1.233,.301,4],[-1.305,.309,2],[-1.416,.316,3],[-1.455,.309,2],[-1.48,.345,2],[-1.34,.324,2],[-1.38,.325],[-1.272,.34],[-1.088,.337],[-1.043,.342,2],[-1.01,.331,2],[-1.116,.306,3],[-1.074,.315],[-1.05,.295],[-1.303,.286],[-1.373,.273,3],[-1.269,.275,3],[-1.19,.298],[-1.473,.247,3],[-1.348,.234,2],[-1.423,.255],[-1.312,.259],[-1.229,.248],[-1.172,.259],[-1.261,.237],[-1.193,.228],[-1.116,.236],[-1.064,.234,2],[-1.079,.254],[-1.028,.244],[-1.018,.217],[-1.281,.217,3],[-1.315,.205,3],[-1.34,.21,2],[-1.398,.215],[-1.381,.202],[-1.491,.194],[-1.265,.201,2],[-1.161,.197,2],[-1.093,.205],[-1.044,.195,3],[-1.123,.187],[-1.079,.187],[-1.424,.182],[-1.257,.176],[-1.301,.172,2],[-1.2,.169],[-1.477,.166],[-1.1,.171],[-1.028,.172,2],[-1.312,.156,2],[-1.421,.154,3],[-1.441,.161],[-1.247,.158],[-1.057,.161],[-1.33,.145],[-1.276,.143],[-1.155,.153],[-1.043,.149,3],[-1.496,.136,3],[-1.466,.125,4],[-1.419,.12,4],[-1.38,.129],[-1.193,.14,2],[-1.134,.141,3],[-1.175,.131,3],[-1.226,.142],[-1.104,.136],[-1.257,.122],[-1.154,.125],[-1.136,.122],[-1.064,.122,3],[-1.192,.112,3],[-1.247,.104],[-1.29,.1,2],[-1.339,.099],[-1.405,.089,3],[-1.172,.091],[-1.143,.089,2],[-1.003,.089,4],[-1.079,.086,2],[-1.3,.06],[-1.222,.064],[-1.233,.048,3],[-1.137,.064,3],[-1.398,.042],[-1.472,.031,4],[-1.301,.029,2],[-1.215,.034],[-1.238,.029],[-1.081,.044,3],[-1.025,.035,3],[-1.276,.024,3],[-1.366,.021],[-1.057,.029],[-1.014,.01,2],[-1.211,.012,2],[-1.172,.01],[-1.489,.006],[-1.462,.003],[-1.437,-.012],[-1.394,.001],[-1.355,.001],[-1.31,.003,2],[-1.247,.001],[-1.206,-.008,2],[-1.498,-.008],[-1.269,-.015,2],[-1.114,-.026,3],[-1.018,-.026,4],[-1.043,-.019],[-1.343,-.028,3],[-1.326,-.023,2],[-1.381,-.036],[-1.457,-.031],[-1.261,-.033],[-1.204,-.038,2],[-1.093,-.039],[-1.05,-.041],[-1.48,-.055,2],[-1.247,-.049,2],[-1.028,-.052,2],[-1.086,-.052],[-1.279,-.063,3],[-1.306,-.064],[-1.14,-.064],[-1.188,-.07],[-1.333,-.073]];

const darkDots = [[-1.993,.916,3],[-1.964,1.154,2],[-1.985,1.194],[-1.939,1.201],[-1.964,1.183],[-1.863,1.204],[-1.838,1.186,2],[-1.81,1.194],[-1.767,1.176,3],[-1.677,1.172],[-1.638,1.186,2],[-1.584,1.194],[-1.501,1.176,3],[-1.34,1.186,3],[-1.322,1.186,3],[-1.157,1.161,3],[-1.243,1.154],[-1.293,1.161],[-1.43,1.165,2],[-1.473,1.15],[-1.537,1.147],[-1.379,1.14],[-1.34,1.15,3],[-1.221,1.14,2],[-1.085,1.168],[-1.092,1.194],[-1.43,1.098,4],[-1.34,1.11,2],[-1.243,1.114,3],[-1.193,1.103],[-1.085,1.129],[-1.394,1.125],[-1.48,1.107],[-1.537,1.11,2],[-1.573,1.103,3],[-1.777,1.114,2],[-1.738,1.132],[-1.652,1.15,2],[-1.681,1.082],[-1.623,1.11],[-1.935,1.161],[-1.899,1.143],[-1.964,1.096],[-1.935,1.096],[-1.985,1.075],[-1.939,1.122],[-1.863,1.103],[-1.817,1.082],[-1.781,1.143],[-1.878,1.168],[-1.921,1.064],[-1.95,1.067],[-1.881,1.067],[-1.853,1.031],[-1.813,1.031,3],[-1.975,1.031],[-1.777,1.031],[-1.734,1.049,2],[-1.72,1.024,3],[-1.781,1.064],[-1.666,.981,2],[-1.595,1.006,4],[-1.577,1.024],[-1.494,1.042,3],[-1.487,1.067,3],[-1.526,1.053],[-1.419,1.031,2],[-1.34,1.006,3],[-1.293,1.039,3],[-1.261,1.024,4],[-1.308,.988],[-1.43,.992,2],[-1.487,1.002,2],[-1.272,.966,3],[-1.315,.966,3],[-1.221,.959,3],[-1.161,.945,3],[-1.107,.97,2],[-1.067,.97,3],[-1.064,1.024,3],[-1.128,1.031],[-1.379,.959,3],[-1.437,.995],[-1.562,.974,2],[-1.609,.988],[-1.526,.988],[-1.724,.959],[-1.767,1.002],[-1.745,.984,2],[-1.824,1.046],[-1.856,1.024],[-1.903,.959],[-1.917,.945],[-1.946,.941],[-1.993,.938],[-1.932,.92],[-1.892,.92],[-1.849,.916,2],[-1.81,.934,2],[-1.756,.938],[-1.727,.909],[-1.681,.901,2],[-1.63,.92,3],[-1.591,.927],[-1.498,.923,3],[-1.465,.92,3],[-1.437,.938],[-1.559,.901,2],[-1.516,.952],[-1.361,.916],[-1.315,.963],[-1.293,.952],[-1.236,.901,3],[-1.178,.894,2],[-1.121,.887,2],[-1.085,.909],[-1.351,.869,4],[-1.422,.858,3],[-1.257,.88],[-1.161,.858,3],[-1.229,.855,2],[-1.293,.862],[-1.394,.887],[-1.473,.858,2],[-1.62,.847,3],[-1.716,.88,2],[-1.803,.883],[-1.838,.887,2],[-1.903,.88],[-1.917,.862],[-1.863,.847],[-1.828,.833],[-1.767,.851],[-1.738,.811,3],[-1.788,.818],[-1.806,.8],[-1.993,.822],[-1.964,.782],[-1.925,.797,2],[-1.881,.761],[-1.853,.743],[-1.849,.775],[-1.81,.71,2],[-1.777,.66,2],[-1.734,.642,2],[-1.727,.678],[-1.756,.674],[-1.677,.815],[-1.641,.815,3],[-1.688,.822],[-1.566,.822],[-1.53,.804],[-1.498,.8,3],[-1.422,.793],[-1.372,.804],[-1.315,.808],[-1.25,.822,2],[-1.193,.786],[-1.11,.779,3],[-1.074,.732,3],[-1.125,.764,3],[-1.257,.736,3],[-1.354,.743],[-1.419,.761],[-1.473,.764],[-1.53,.746],[-1.598,.717,3],[-1.663,.736,2],[-1.623,.761],[-1.394,.703],[-1.487,.721],[-1.178,.699,3],[-1.3,.696],[-1.354,.663,3],[-1.3,.656,2],[-1.049,.645,3],[-1.056,.707,2],[-1.143,.645],[-1.2,.678],[-1.408,.66],[-1.555,.656],[-1.659,.66,2],[-1.595,.627],[-1.523,.598,3],[-1.451,.57,3],[-1.221,.598],[-1.15,.598],[-1.107,.57],[-1.064,.616],[-1.279,.602],[-1.365,.598],[-1.609,.555],[-1.663,.548],[-1.716,.573],[-1.623,.494],[-1.551,.447],[-1.021,1.096,3],[-1.017,1.053,3],[-.974,1.046],[-.992,1.002,2],[-.942,1.035,2],[-.92,1.024,2],[-.888,1.01],[-.856,.988,2],[-.845,.961,4],[-.866,.945,4],[-.881,.981],[-.949,.937,3],[-.992,.959,2],[-.967,.966,2],[-.924,.909,2],[-.895,.891,3],[-.999,.927],[-1.028,.901],[-.816,.916,3],[-.777,.952,2],[-.788,.981],[-.802,.876,2],[-.741,.916,2],[-.719,.873,2],[-.698,.793,3],[-.791,.815,3],[-.748,.822,2],[-.841,.836,2],[-.963,.8,3],[-.992,.822],[-.917,.822],[-.87,.771],[-.823,.782,3],[-1.021,.779],[-.759,.8],[-.662,.815,3],[-.605,.786],[-.569,.775,2],[-.511,.79,2],[-.475,.775,3],[-.411,.8,3],[-.364,.822,2],[-.64,.779],[-.691,.836,2],[-.569,.825],[-.447,.786],[-.328,.757,2],[-.242,.793,3],[-.296,.775],[-.174,.804,2],[-.138,.771],[-.267,.822],[-.364,.779],[-.221,.757,2]];

// second pass over the crowded bands, rougher than the lists above
const crowdedDarkDots = [[-1.95,1.21],[-1.88,1.19],[-1.72,1.2],[-1.62,1.21],[-1.53,1.19],[-1.45,1.2],[-1.41,1.17],[-1.36,1.21],[-1.29,1.19],[-1.26,1.21],[-1.2,1.18],[-1.17,1.2],[-1.12,1.19],[-1.1,1.16],[-1.92,1.13],[-1.84,1.15],[-1.7,1.14],[-1.62,1.16],[-1.56,1.13],[-1.5,1.14],[-1.46,1.12],[-1.4,1.16],[-1.36,1.12],[-1.31,1.14],[-1.27,1.17],[-1.25,1.12],[-1.2,1.15],[-1.18,1.12],[-1.13,1.14],[-1.1,1.11],[-1.06,1.12],[-1.04,1.15],[-1.97,1.09],[-1.9,1.08],[-1.83,1.1],[-1.71,1.09],[-1.64,1.07],[-1.55,1.08],[-1.49,1.09],[-1.44,1.07],[-1.37,1.09],[-1.3,1.08],[-1.22,1.09],[-1.16,1.07],[-1.12,1.09],[-1.07,1.08],[-1.03,1.06],[-.99,1.08],[-1.91,1.03],[-1.79,1.01],[-1.69,1.04],[-1.6,1.05],[-1.54,1.02],[-1.46,1.03],[-1.39,1.05],[-1.35,1.03],[-1.28,1.06],[-1.21,1.04],[-1.17,1.02],[-1.11,1.05],[-1.09,1.01],[-1.01,1.02],[-.96,1.01],[-.91,1.06],[-1.98,.98],[-1.88,.99],[-1.83,.97],[-1.7,.99],[-1.63,.96],[-1.55,1],[-1.5,.97],[-1.46,.99],[-1.41,.97],[-1.36,.98],[-1.25,.99],[-1.19,.98],[-1.14,1],[-1.03,.98],[-.97,.99],[-.91,.97],[-.87,1],[-.83,.97],[-1.87,.93],[-1.78,.94],[-1.67,.95],[-1.61,.9],[-1.54,.94],[-1.48,.95],[-1.4,.92],[-1.33,.92],[-1.27,.93],[-1.2,.93],[-1.13,.92],[-1.07,.94],[-1.03,.93],[-.97,.91],[-.88,.92],[-.8,.94],[-.76,.97],[-.72,.9],[-1.97,.87],[-1.87,.88],[-1.78,.88],[-1.7,.86],[-1.65,.88],[-1.57,.87],[-1.52,.88],[-1.44,.89],[-1.37,.88],[-1.29,.89],[-1.2,.87],[-1.15,.9],[-1.09,.86],[-1.03,.85],[-.99,.87],[-.93,.86],[-.86,.88],[-.78,.87],[-.75,.86],[-.69,.85],[-1.94,.83],[-1.85,.81],[-1.75,.84],[-1.6,.8],[-1.55,.78],[-1.45,.83],[-1.4,.82],[-1.34,.83],[-1.27,.81],[-1.19,.83],[-1.13,.81],[-1.07,.8],[-1.01,.83],[-.94,.78],[-.89,.8],[-.85,.79],[-.81,.76],[-.73,.78],[-1.89,.74],[-1.79,.76],[-1.72,.74],[-1.65,.78],[-1.58,.76],[-1.51,.7],[-1.45,.73],[-1.42,.71],[-1.33,.76],[-1.28,.73],[-1.23,.77],[-1.17,.74],[-1.09,.76],[-1.03,.73],[-.99,.72],[-.92,.74],[-.88,.71],[-.78,.7],[-.72,.72],[-1.83,.68],[-1.71,.7],[-1.64,.69],[-1.57,.68],[-1.49,.66],[-1.44,.68],[-1.37,.65],[-1.26,.68],[-1.24,.64],[-1.16,.67],[-1.11,.68],[-1.08,.65],[-1,.66],[-.96,.62],[-1.76,.62],[-1.69,.61],[-1.62,.64],[-1.54,.62],[-1.47,.63],[-1.41,.61],[-1.33,.62],[-1.26,.62],[-1.19,.63],[-1.13,.6],[-1.04,.59],[-1.69,.53],[-1.65,.58],[-1.58,.59],[-1.53,.55],[-1.49,.57],[-1.41,.57],[-1.37,.54],[-1.3,.59],[-1.24,.57],[-1.18,.55],[-1.1,.6],[-1.58,.51],[-1.55,.48],[-1.53,.52],[-1.46,.54],[-1.4,.52],[-1.34,.51],[-1.27,.53],[-1.57,.42],[-1.53,.46],[-1.43,.47],[-1.45,.43],[-1.34,.45]];

const crowdedBlueDots = [[-1.55,.3],[-1.53,.17],[-1.5,.29],[-1.42,.41],[-1.41,.36],[-1.39,.27],[-1.36,.4],[-1.35,.29],[-1.32,.42],[-1.33,.36],[-1.31,.23],[-1.28,.45],[-1.25,.42],[-1.23,.34],[-1.21,.4],[-1.19,.27],[-1.17,.43],[-1.15,.3],[-1.12,.24],[-1.11,.43],[-1.09,.29],[-1.06,.44],[-1.05,.38],[-1.03,.5],[-1.02,.28],[-1,.55],[-.98,.44],[-.97,.58],[-.95,.4],[-.94,.26],[-.92,.6],[-.91,.45],[-.9,.34],[-.88,.52],[-.87,.29],[-.85,.61],[-.84,.48],[-.83,.25],[-.81,.5],[-.8,.39],[-.78,.63],[-.77,.47],[-.76,.3],[-.74,.6],[-.73,.44],[-.72,.35],[-.7,.55],[-.69,.31],[-.67,.62],[-.66,.47],[-.65,.37],[-.63,.66],[-.62,.44],[-.61,.3],[-.59,.6],[-.58,.49],[-.57,.35],[-.55,.68],[-.54,.57],[-.53,.47],[-.51,.35],[-.5,.7],[-.49,.58],[-.47,.4],[-.46,.31],[-.44,.64],[-.43,.53],[-.41,.72],[-.41,.44],[-.39,.62],[-.37,.47],[-.36,.74],[-.35,.37],[-.33,.66],[-.32,.47],[-.31,.79],[-.29,.6],[-.28,.41],[-.27,.7],[-.25,.5],[-.24,.64],[-.22,.39],[-.21,.6],[-.19,.71],[-.18,.47],[-.16,.62],[-.15,.75],[-.13,.5],[-.11,.62],[-.1,.72],[-.08,.55],[-.07,.66],[-.05,.58],[-.03,.64],[-1.56,.08],[-1.52,.15],[-1.49,.05],[-1.45,.08],[-1.43,.2],[-1.39,.16],[-1.36,.1],[-1.35,.19],[-1.32,.07],[-1.29,.13],[-1.27,.09],[-1.23,.2],[-1.21,.09],[-1.18,.18],[-1.15,.05],[-1.12,.16],[-1.08,.1],[-1.06,.2],[-1.03,.12],[-.99,.22],[-.97,.12],[-.94,.18],[-.91,.27],[-.87,.16],[-.83,.31],[-.8,.2],[-.76,.24],[-.72,.26],[-.69,.24],[-.64,.29],[-.62,.24],[-.58,.28],[-.52,.33],[-.47,.36],[-.43,.37],[-.38,.41],[-.35,.4],[-.27,.46],[-.23,.47],[-.2,.42],[-.15,.44]];

const crowdedMediumDots = [[-1.55,-.17],[-1.52,-.06],[-1.47,-.13],[-1.44,-.03],[-1.4,-.08],[-1.36,-.05],[-1.33,-.12],[-1.26,-.03],[-1.22,-.1],[-1.19,-.03],[-1.15,-.03],[-1.1,-.09],[-1.07,-.02],[-1,.03],[-.95,.01],[-.93,.13],[-.9,.05],[-.87,.13],[-.85,.07],[-.83,.15],[-.79,.03],[-.75,.12],[-.71,.09],[-.69,.11],[-.65,.14],[-.61,.18],[-.59,.03],[-.56,.21],[-.52,.14],[-.5,.19],[-.47,.15],[-.45,.22],[-.44,.06],[-.41,.25],[-.38,.13],[-.37,.26],[-.34,.28],[-.31,.13],[-.29,.3],[-.25,.21],[-.23,.35],[-.21,.19],[-.19,.4],[-.16,.26],[-.13,.3],[-.11,.42],[-.08,.34],[-.07,.21],[-.05,.25],[-.03,.38],[0,.2],[.02,.25],[.04,.32],[.06,.22],[.09,.29],[.11,.33],[.14,.25],[.17,.37],[.2,.34]];

const dotGroups = [ridgeDots, rimDots, rightDots, farRightDots, leftDots, lowerDots, midDots, innerLeftDots, darkDots, crowdedDarkDots, crowdedBlueDots, crowdedMediumDots];

const toRows = (level: number[][]) => level.map(([x, lo, hi]) => ({ x, band: [lo, hi] }));
const dotRows = dotGroups.flat().flatMap(([x, y, n = 1]) => Array.from({ length: Math.min(n, 2) }, () => ({ x, y })));
const isMajor = (v: number) => Math.abs(v * 2 - Math.round(v * 2)) < 1e-6;
const fmt = (v: number, digits = 1) => v.toFixed(digits).replace("-", "\u2212");

function BottomTick({ x, payload }: any) {
  const major = isMajor(payload.value);
  return (
    <g>
      <line x1={x} x2={x} y1={PLOT_B} y2={PLOT_B - (major ? MAJOR : MINOR)} stroke="#000" strokeWidth={major ? 2 : 1.6} />
      {major && (
        <text x={x} y={1544} textAnchor="middle" fontSize={TICK_SIZE} fontFamily={FONT} fill="#000">
          {fmt(payload.value)}
        </text>
      )}
    </g>
  );
}

function TopTick({ x, payload }: any) {
  const major = isMajor(payload.value);
  return <line x1={x} x2={x} y1={PLOT_T} y2={PLOT_T + (major ? MAJOR : MINOR)} stroke="#000" strokeWidth={major ? 2 : 1.6} />;
}

function LeftTick({ y, payload }: any) {
  const major = isMajor(payload.value);
  return (
    <g>
      <line x1={PLOT_L} x2={PLOT_L + (major ? MAJOR : MINOR)} y1={y} y2={y} stroke="#000" strokeWidth={major ? 2 : 1.6} />
      {major && (
        <text x={233} y={y + 17} textAnchor="end" fontSize={TICK_SIZE} fontFamily={FONT} fill="#000">
          {fmt(payload.value)}
        </text>
      )}
    </g>
  );
}

function RightTick({ y, payload }: any) {
  const major = isMajor(payload.value);
  return <line x1={PLOT_R} x2={PLOT_R - (major ? MAJOR : MINOR)} y1={y} y2={y} stroke="#000" strokeWidth={major ? 2 : 1.6} />;
}

function BarTick({ y, payload }: any) {
  const major = Math.abs(payload.value * 4 - Math.round(payload.value * 4)) < 1e-6;
  return (
    <g>
      <line x1={172} x2={172 + (major ? MAJOR : MINOR)} y1={y} y2={y} stroke="#000" strokeWidth={major ? 2 : 1.4} />
      {major && (
        <text x={153} y={y + 17} textAnchor="end" fontSize={TICK_SIZE} fontFamily={FONT} fill="#000">
          {fmt(payload.value, 2)}
        </text>
      )}
    </g>
  );
}

const Dot = ({ cx, cy }: any) => (
  <circle cx={cx} cy={cy} r={3.4} fill="#f00" fillOpacity={0.28} stroke="#f00" strokeOpacity={0.16} strokeWidth={1.6} />
);

const sub = (dy: number, size: number, str: string) => (
  <tspan dy={dy} fontSize={size}>
    {str}
  </tspan>
);

const PlotTitle = () => (
  <text x={949} y={76} textAnchor="middle" fontSize={58} fontFamily={FONT} fill="#000">
    Radio+Quasar
  </text>
);

const XLabel = () => (
  <text x={950} y={1619} textAnchor="middle" fontSize={LABEL_SIZE} fontFamily={FONT} fill="#000">
    log ρ
    {sub(12, 41, "20")}
    <tspan dy={-12}> (Mpc</tspan>
    {sub(-22, 41, "\u22123")}
    <tspan dy={22}>)</tspan>
  </text>
);

const YLabel = () => (
  <text transform="rotate(-90 74 792)" x={74} y={792} textAnchor="middle" fontSize={LABEL_SIZE} fontFamily={FONT} fill="#000">
    log d
    {sub(12, 41, "neigh")}
    <tspan dy={-12}>/R</tspan>
    {sub(12, 41, "vir, neigh")}
  </text>
);

const BarLabel = () => (
  <g fontFamily={FONT} fill="#000">
    <rect x={172} y={44} width={71} height={347} fill="none" stroke="#111" strokeWidth={2.4} />
    <text transform="rotate(-90 317 294)" x={317} y={294} textAnchor="middle" fontSize={57}>
      log
    </text>
    <line x1={305} x2={305} y1={104} y2={239} stroke="#000" strokeWidth={2.4} />
    <text transform="rotate(-90 285 172)" x={285} y={172} textAnchor="middle" fontSize={38}>
      M
      {sub(8, 27, "gas")}
    </text>
    <text transform="rotate(-90 336 172)" x={336} y={172} textAnchor="middle" fontSize={38}>
      M
      {sub(8, 27, "NonAGN")}
    </text>
  </g>
);

const layerStyle = { position: "absolute", left: 0, top: 0 } as const;
const frameLine = { stroke: "#000", strokeWidth: 2.6 };

export default function App() {
  return (
    <div style={{ ...layerStyle, width: W, height: H, background: "#fff" }}>
      <div style={layerStyle}>
        <ComposedChart width={W} height={H} margin={{ top: PLOT_T, right: W - PLOT_R, bottom: H - PLOT_B, left: PLOT_L }}>
          <XAxis dataKey="x" type="number" domain={[-2, 1]} hide allowDataOverflow />
          <YAxis dataKey="y" type="number" domain={[-1, 2]} hide allowDataOverflow />
          {levels.map((level, i) => (
            <Area key={i} data={toRows(level)} dataKey="band" type="linear" fill={levelColors[i]} fillOpacity={1} stroke="none" dot={false} activeDot={false} isAnimationActive={false} />
          ))}
          <Scatter data={dotRows} shape={Dot} isAnimationActive={false} />
        </ComposedChart>
      </div>
      <div style={layerStyle}>
        <ComposedChart width={W} height={H} margin={{ top: 0, right: 0, bottom: 0, left: 0 }}>
          <XAxis xAxisId={0} dataKey="x" type="number" domain={[-2, 1]} ticks={xTicks} interval={0} height={H - PLOT_B} allowDataOverflow tickLine={false} tick={BottomTick} axisLine={frameLine} label={{ content: XLabel }} />
          <XAxis xAxisId="top" orientation="top" dataKey="x" type="number" domain={[-2, 1]} ticks={xTicks} interval={0} height={PLOT_T} allowDataOverflow tickLine={false} tick={TopTick} axisLine={frameLine} label={{ content: PlotTitle }} />
          <YAxis yAxisId={0} dataKey="y" type="number" domain={[-1, 2]} ticks={yTicks} interval={0} width={PLOT_L} allowDataOverflow tickLine={false} tick={LeftTick} axisLine={frameLine} label={{ content: YLabel }} />
          <YAxis yAxisId="right" orientation="right" dataKey="y" type="number" domain={[-1, 2]} ticks={yTicks} interval={0} width={W - PLOT_R} allowDataOverflow tickLine={false} tick={RightTick} axisLine={frameLine} />
          <Scatter data={[]} xAxisId={0} yAxisId={0} isAnimationActive={false} />
        </ComposedChart>
      </div>
      <div style={{ position: "absolute", left: 1100, top: 150 }}>
        <ComposedChart width={400} height={420} margin={{ top: 44, right: 157, bottom: 29, left: 172 }}>
          <defs>
            <linearGradient id="barFill" x1="0" y1="1" x2="0" y2="0">
              {barStops.map((c, i) => (
                <stop key={c} offset={i / (barStops.length - 1)} stopColor={c} />
              ))}
            </linearGradient>
          </defs>
          <XAxis dataKey="x" type="number" domain={[0, 1]} hide />
          <YAxis type="number" domain={[-0.561, 0.0788]} hide allowDataOverflow />
          <Area data={toRows(barColumn)} dataKey="band" type="linear" fill="url(#barFill)" fillOpacity={1} stroke="none" dot={false} activeDot={false} isAnimationActive={false} />
        </ComposedChart>
      </div>
      <div style={{ position: "absolute", left: 1100, top: 150 }}>
        <ComposedChart width={400} height={420} margin={{ top: 44, right: 0, bottom: 29, left: 0 }}>
          <XAxis dataKey="x" type="number" domain={[0, 1]} hide />
          <YAxis dataKey="y" type="number" domain={[-0.561, 0.0788]} ticks={barTicks} interval={0} width={172} allowDataOverflow tickLine={false} tick={BarTick} axisLine={false} />
          <YAxis yAxisId="pad" orientation="right" type="number" domain={[0, 1]} width={157} tick={false} axisLine={false} tickLine={false} label={{ content: BarLabel }} />
        </ComposedChart>
      </div>
    </div>
  );
}
